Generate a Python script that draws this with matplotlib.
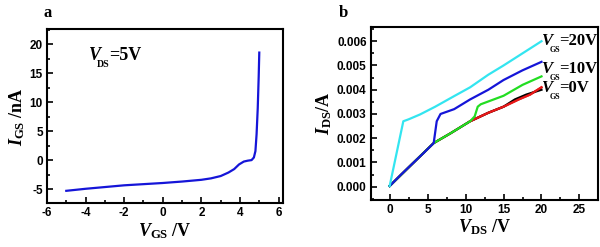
import matplotlib
matplotlib.use("Agg")
import matplotlib.pyplot as plt
from matplotlib.ticker import MultipleLocator, FormatStrFormatter

plt.rcParams['axes.unicode_minus'] = False
plt.rcParams['mathtext.fontset'] = 'custom'
plt.rcParams['mathtext.rm'] = 'Liberation Serif:bold'
plt.rcParams['mathtext.it'] = 'Liberation Serif:bold:italic'
plt.rcParams['mathtext.bf'] = 'Liberation Serif:bold'

# panel a: gate leakage current
vgs = [-5.0, -4.0, -3.0, -2.0, -1.0, 0.0, 1.0, 2.0, 2.5, 3.0, 3.4, 3.7, 3.95,
       4.2, 4.4, 4.6, 4.72, 4.8, 4.86, 4.92, 4.97, 5.0]
igs = [-5.25, -4.9, -4.6, -4.3, -4.1, -3.9, -3.65, -3.35, -3.1, -2.7, -2.1, -1.5,
       -0.7, -0.2, -0.05, 0.05, 0.5, 1.6, 4.5, 9.0, 14.5, 18.6]

# panel b: output curves
vds_cyan = [0, 1.8, 2.5, 4, 6, 8.4, 10.6, 13, 15, 17, 20]
ids_cyan = [0.00003, 0.0027, 0.00278, 0.00298, 0.0033, 0.00372, 0.0041, 0.00462,
            0.0050, 0.0054, 0.0060]
vds_blue = [0, 1.5, 3, 4.5, 5.8, 6.2, 6.7, 8.5, 10.6, 13, 15, 17.5, 20]
ids_blue = [0.00003, 0.0005, 0.00095, 0.0014, 0.0018, 0.0027, 0.003, 0.0032,
            0.0036, 0.004, 0.0044, 0.0048, 0.00515]
vds_green = [0, 3, 5.8, 8, 10.6, 11.2, 11.6, 12, 15, 17.5, 20]
ids_green = [0.00003, 0.00095, 0.0018, 0.0022, 0.0027, 0.0029, 0.0033, 0.0034,
             0.00375, 0.0042, 0.00455]
vds_red = [0, 3, 5.8, 8, 10.6, 13, 15, 17, 18.5, 20]
ids_red = [0.00003, 0.00095, 0.0018, 0.0022, 0.0027, 0.00305, 0.0033, 0.0036,
           0.0038, 0.0041]
vds_black = [0, 3, 5.8, 8, 10.6, 13, 15, 16.5, 18, 20]
ids_black = [0.00003, 0.00095, 0.0018, 0.0022, 0.0027, 0.00305, 0.0033, 0.0036,
             0.0038, 0.0040]

curve_labels = ['20V', '10V', '0V']
label_y = [0.00585, 0.00467, 0.0039]

serif = dict(family='Liberation Serif', weight='bold')


def style_axes(ax):
    for sp in ax.spines.values():
        sp.set_linewidth(1.5)
    ax.tick_params(which='both', direction='in', top=False, right=False, width=1.2)
    ax.tick_params(which='major', length=4, labelsize=8.5, pad=3)
    ax.tick_params(which='minor', length=2)
    for lab in ax.get_xticklabels() + ax.get_yticklabels():
        lab.set_fontfamily('Liberation Sans')
        lab.set_fontweight('bold')


def sub_text(ax, x, y, sub, rest, size=12, sub_scale=0.5):
    # italic V, small subscript tucked under its right part, then the rest
    t1 = ax.text(x, y, 'V', fontsize=size, style='italic', va='baseline',
                 clip_on=False, **serif)
    t2 = ax.annotate(sub, xy=(0.72, 0.2), xycoords=t1, fontsize=size * sub_scale,
                     va='top', ha='left', annotation_clip=False, **serif)
    ax.annotate(rest, xy=(0.92, 0.0), xycoords=(t2, t1), fontsize=size,
                va='bottom', ha='left', annotation_clip=False, **serif)


fig = plt.figure(figsize=(6, 2.47), dpi=100)

# ---- panel a
ax1 = fig.add_axes([0.0783, 0.177, 0.3934, 0.704])
ax1.plot(vgs, igs, color='#1515d8', lw=1.6)
ax1.set_xlim(-6, 6.23)
ax1.set_ylim(-7.4, 22.6)
ax1.xaxis.set_major_locator(MultipleLocator(2))
ax1.xaxis.set_minor_locator(MultipleLocator(1))
ax1.yaxis.set_major_locator(MultipleLocator(5))
ax1.yaxis.set_minor_locator(MultipleLocator(2.5))
style_axes(ax1)
ax1.set_xlabel(r'$V_{\mathrm{GS}}$ /V', fontsize=13, labelpad=1, **serif)
ax1.set_ylabel(r'$I_{\mathrm{GS}}$ /nA', fontsize=13, labelpad=2, **serif)
sub_text(ax1, -3.84, 17.4, 'DS', '=5V', size=13, sub_scale=0.55)
fig.text(0.072, 0.947, 'a', fontsize=12, va='center', **serif)

# ---- panel b
ax2 = fig.add_axes([0.6178, 0.19, 0.3783, 0.702])
ax2.plot(vds_red, ids_red, color='#e81818', lw=1.6)
ax2.plot(vds_black, ids_black, color='black', lw=1.6)
ax2.plot(vds_red[4:], ids_red[4:], color='#e81818', lw=1.6)
ax2.plot(vds_green, ids_green, color='#22dd22', lw=1.6)
ax2.plot(vds_blue, ids_blue, color='#1515d8', lw=1.6)
ax2.plot(vds_cyan, ids_cyan, color='#33e5f0', lw=1.6)
ax2.set_xlim(-2.5, 27.4)
ax2.set_ylim(-0.00055, 0.0066)
ax2.xaxis.set_major_locator(MultipleLocator(5))
ax2.xaxis.set_minor_locator(MultipleLocator(2.5))
ax2.yaxis.set_major_locator(MultipleLocator(0.001))
ax2.yaxis.set_minor_locator(MultipleLocator(0.0005))
ax2.yaxis.set_major_formatter(FormatStrFormatter('%.3f'))
style_axes(ax2)
ax2.set_xlabel(r'$V_{\mathrm{DS}}$ /V', fontsize=13, labelpad=1, **serif)
ax2.set_ylabel(r'$I_{\mathrm{DS}}$/A', fontsize=13, labelpad=2, **serif)
for y, s in zip(label_y, curve_labels):
    sub_text(ax2, 20.0, y, 'GS', '=' + s, size=12, sub_scale=0.48)
fig.text(0.565, 0.947, 'b', fontsize=12, va='center', **serif)

fig.savefig('out.png', dpi=100)
